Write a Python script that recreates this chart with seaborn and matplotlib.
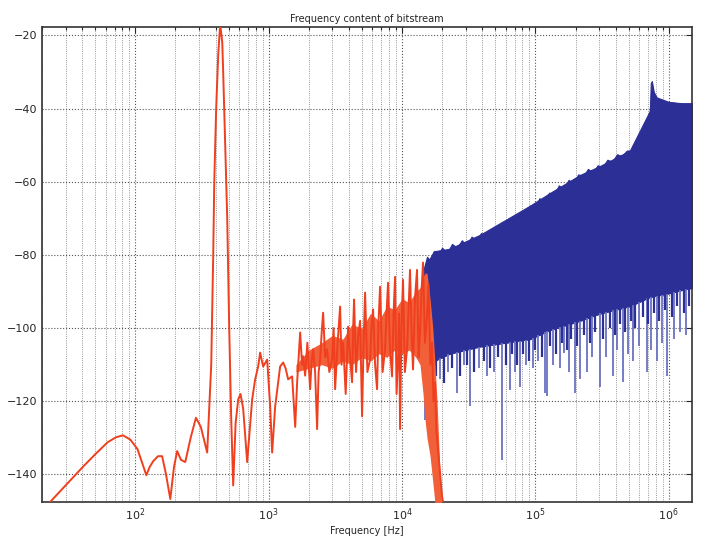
import matplotlib
matplotlib.use("Agg")
import matplotlib.pyplot as plt
import matplotlib.ticker as mticker
import numpy as np
import pandas as pd
import seaborn as sns

# signal band (red)
red_freq = [20, 23, 30, 41, 50, 62, 72, 81, 92, 104, 113, 121, 128, 136, 148,
            159, 170, 183, 195, 206, 220, 237, 260, 285, 310, 330, 346,
            371, 384, 391, 404, 419, 433, 449, 456, 472, 489, 506, 524, 542,
            565, 591, 615, 644, 690, 752, 792, 834, 863, 909, 975, 1026, 1062,
            1119, 1219, 1284, 1340, 1400, 1500, 1581, 1635, 1722, 1780, 1813,
            1877, 1950, 2046, 2100, 2155, 2230, 2308, 2370, 2431, 2500, 2560,
            2650, 2743, 2850, 2990, 3070, 3149, 3290, 3433, 3520, 3616, 3780,
            3942, 4080, 4220, 4300, 4369, 4520, 4681, 4850, 5016, 5150, 5283,
            5500, 5758, 5900, 6064, 6280, 6498, 6670, 6843, 7150, 7459, 7650,
            7856, 8130, 8417, 8640, 8865, 9100, 9338, 9500, 9667, 9900, 10170,
            10500, 10900, 11200, 11480, 11800, 12090, 12500, 12950, 13300,
            13640, 14000, 14370, 14850, 15390, 15800, 16300, 16790, 17200,
            17670, 18100, 18610, 19300, 19940, 21370]
red_db = [-150, -147.5, -143, -137.7, -134.5, -131.2, -129.8, -129.3, -130.5,
          -133.1, -137, -140.2, -138, -136.4, -135, -135, -140, -146.7, -138,
          -133.6, -136, -136.6, -130, -124.5, -127, -131, -134,
          -110, -80, -60, -40, -25, -17, -22, -30, -50, -70, -100, -125, -143,
          -126, -119.5, -118, -122, -136.6, -119.5, -114, -110.5, -106.7,
          -110.5, -108.6, -121.4, -134, -121.4, -110.5, -109.4, -111, -114,
          -113.2, -127, -114.8, -101.2, -110, -107.7, -113, -104, -116.7,
          -109, -105.8, -112, -127.6, -112, -108.6, -101, -95.8, -108, -105.8,
          -112, -108.6, -100, -116.7, -104, -94.1, -110, -103.9, -118, -99.6,
          -108, -114.8, -100, -92.2, -112, -102.3, -98, -124.1, -104, -90.3,
          -112, -108.6, -100, -94.9, -110, -116.7, -98, -88.7, -112, -105.8,
          -96, -87.6, -106, -113.2, -96, -86.0, -118, -107.7, -96, -127.6,
          -100, -86.8, -112, -105.8, -94, -84.1, -102, -111.3, -92, -84.1,
          -108, -101.2, -90, -82.1, -104, -96.8, -88, -110, -103.9, -120,
          -114.8, -128, -133.1, -140, -145.9, -152]

# dense core of the red band
core_freq = [1600, 2000, 2500, 3000, 3600, 4200, 5000, 5800, 6700, 7700, 8800,
             10000, 11300, 12700, 13640, 14370, 14860, 15390, 16220, 17000,
             17670, 18300, 19280, 19940]
core_up = [-110, -106, -104, -102, -103, -99, -100, -96, -98, -94, -95, -92,
           -93, -90, -89, -86, -85, -85, -92, -100, -110, -120, -140, -150]
core_lo = [-112, -111, -110, -111, -109, -110, -108, -109, -107, -108, -106,
           -107, -106, -108, -110, -118, -125, -130, -135, -142, -148, -150,
           -150, -150]

# shaped noise (blue) - upper envelope
up_freq = [14500, 15390, 16220, 17330, 18500, 19940, 21700, 23700, 25800,
           28100, 30500, 33200, 36100, 39200, 42700, 46400, 50400, 54800,
           59600, 64800, 70500, 76700, 83400, 90600, 98600, 107200, 116600,
           126800, 137800, 149900, 163000, 177200, 192700, 209500, 227800,
           247700, 269300, 292800, 318400, 346200, 376400, 409300, 445100,
           483900, 526200, 572200, 622100, 676500, 706000, 722000, 733000,
           746300, 772000, 813000, 890000, 1017000, 1209000, 1490000]
up_db = [-84, -80.5, -81.5, -79, -80.5, -78, -79.5, -77, -78, -76, -77.5, -75,
         -76, -74, -75.5, -73, -74, -72, -73, -70.5, -71.5, -69, -69.5, -66.5,
         -67.5, -64.5, -65.5, -63, -63.5, -61, -62, -59.5, -60.5, -58, -58.5,
         -56.5, -57.5, -55.5, -56, -54, -54.5, -52.5, -53, -51.5, -51.5, -49.5,
         -49, -48, -47.5, -40, -33, -32.5, -35.5, -37, -37.5, -38.3, -38.6,
         -38.6]

# shaped noise (blue) - lower edge of the dense part
lo_freq = [14500, 17330, 22600, 38390, 91000, 128500, 215500, 304300, 510200,
           720600, 1000000, 1273000, 1490000]
lo_db = [-112, -109, -107, -105, -103, -100.5, -98, -96, -94, -91.5, -90.5,
         -89.5, -89]

# long, faint dips of the blue trace
dip_freq = [14860, 17500, 19280, 22300, 25820, 29000, 32270, 38000, 43330,
            49000, 56100, 64420, 70000, 76560, 85000, 95740, 105000, 117800,
            121900, 135000, 152600, 165000, 179000, 197800, 215000, 243200,
            265000, 304300, 340000, 380800, 410000, 452000, 495000, 537300,
            600000, 684000, 740000, 813000, 890000, 966000, 1100000, 1209000,
            1350000]
dip_db = [-125, -110, -114, -112, -117.6, -110, -121.4, -111, -113, -112,
          -136, -117, -112, -116, -110, -111, -109, -117.6, -118.6, -110,
          -111, -106.7, -112, -117.6, -114, -112, -108, -116, -108, -113,
          -106, -114.8, -107, -109, -105, -112, -106, -109, -104, -113, -103,
          -101, -102]

# short, dark dips along the lower edge
sdip_freq = [15800, 18000, 20500, 23800, 27000, 30500, 34500, 41000, 46000,
             52000, 60000, 67000, 73000, 81000, 90000, 100000, 112000, 128000,
             143000, 158000, 172000, 186000, 205000, 230000, 255000, 280000,
             320000, 360000, 395000, 430000, 470000, 520000, 560000, 640000,
             700000, 780000, 850000, 930000, 1050000, 1150000, 1300000, 1420000]
sdip_db = [-116, -113, -115, -111, -113, -110, -112, -109, -111, -108, -110,
           -107, -110, -107, -109, -106, -108, -105, -107, -104, -106, -103,
           -105, -102, -104, -101, -103, -100, -102, -99, -101, -98, -100, -97,
           -99, -96, -98, -95, -97, -94, -96, -94]

sns.set_style("white")
plt.rcParams["font.family"] = ["DejaVu Sans"]

fig = plt.figure(figsize=(7.01, 5.45), dpi=100)
ax = fig.add_axes([0.060, 0.079, 0.927, 0.871])

noise_color = "#2b2f96"
lo_at_up = np.interp(np.log10(up_freq), np.log10(lo_freq), lo_db)
up_at_lo = np.interp(np.log10(lo_freq), np.log10(up_freq), up_db)
ax.fill_between(up_freq, lo_at_up, up_db, color=noise_color, lw=0.8, zorder=2)
ax.fill_between(lo_freq, lo_db, up_at_lo, color=noise_color, lw=0.8, zorder=2)
ax.vlines(dip_freq, dip_db, np.interp(np.log10(dip_freq), np.log10(lo_freq), lo_db),
          color="#6a72c2", lw=1.3, zorder=2)
ax.vlines(sdip_freq, sdip_db, np.interp(np.log10(sdip_freq), np.log10(lo_freq), lo_db),
          color=noise_color, lw=1.6, zorder=2)

ax.fill_between(core_freq, core_lo, core_up, color="#f2603a", lw=0, zorder=3)
red = pd.DataFrame({"f": red_freq, "db": red_db})
sns.lineplot(data=red, x="f", y="db", color="#ef3f1f", lw=1.4, ax=ax,
             estimator=None, sort=False, zorder=3)

ax.set_xscale("log")
ax.set_xlim(20, 1.49e6)
ax.set_ylim(-147.5, -17.8)
ax.set_yticks([-140, -120, -100, -80, -60, -40, -20])
ax.xaxis.set_major_locator(mticker.LogLocator(base=10, numticks=10))
ax.xaxis.set_minor_locator(mticker.LogLocator(base=10, subs=np.arange(2, 10), numticks=100))
ax.xaxis.set_minor_formatter(mticker.NullFormatter())

ax.grid(True, which="major", axis="both", color="#555555", ls=":", lw=0.8)
ax.grid(True, which="minor", axis="x", color="#777777", ls=":", lw=0.6)
ax.tick_params(which="both", direction="in", top=True, right=True,
               labelsize=8, length=4, width=0.8)
ax.tick_params(which="minor", length=2)
for s in ax.spines.values():
    s.set_color("#333333")
    s.set_linewidth(1.2)

ax.set_title("Frequency content of bitstream", fontsize=7, pad=4)
ax.set_xlabel("Frequency [Hz]", fontsize=7, labelpad=2)
ax.set_ylabel("")

fig.savefig("out.png", dpi=100)
